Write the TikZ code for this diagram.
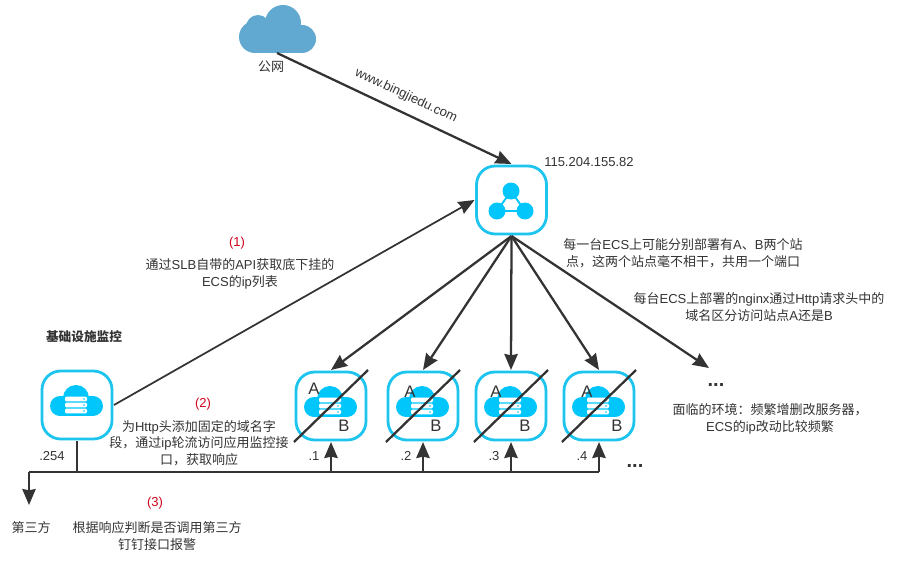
\documentclass[tikz,border=0pt]{standalone}
\usepackage{fontspec}
\setmainfont{Liberation Sans}
\newfontfamily\cjk{Noto Sans CJK SC}
\usetikzlibrary{arrows.meta,calc,positioning}
\newcommand{\zh}[1]{{\cjk #1}}
\definecolor{iconblue}{HTML}{00C6FB}
\definecolor{boxblue}{HTML}{1CC4EE}
\definecolor{skyblue}{HTML}{62A9D2}
\definecolor{inkgray}{HTML}{333333}
\definecolor{notered}{HTML}{D0021B}
\tikzset{
    net diagram/.style = {x=0.75pt, y=-0.75pt, >={Stealth[length=12pt, width=10pt, inset=1pt]}},
    link/.style        = {draw=inkgray, line width=1.7pt},
    thinlink/.style    = {draw=inkgray, line width=1.3pt},
    buslink/.style     = {draw=inkgray, line width=1.9pt},
    hostbox/.style     = {draw=boxblue, line width=2.1pt, rounded corners=14pt, fill=white,
                          minimum width=52.5pt, minimum height=51pt,
                          inner sep=0pt, outer sep=1.5pt},
    note/.style        = {font=\fontsize{9.75}{12.4}\selectfont, align=center,
                          text=inkgray, inner sep=0pt},
    stepmark/.style    = {note, text=notered},
    site/.style        = {font=\fontsize{12.5}{14}\selectfont, text=inkgray, inner sep=0pt},
    moredots/.style    = {font=\bfseries\fontsize{15}{15}\selectfont, text=inkgray, inner sep=0pt},
    server cloud/.pic  = {
        \fill[iconblue] (-17,1) circle (10);
        \fill[iconblue] (16,1) circle (10);
        \fill[iconblue] (-1,-7) circle (13);
        \fill[iconblue] (-17,-9) rectangle (16,11);
        \foreach \y in {-6,0,6} {
            \fill[white, rounded corners=1pt] (-12,\y-2.4) rectangle (10,\y+2.4);
            \fill[iconblue] (7,\y) circle (0.9);
        }
    }
}

\begin{document}
\begin{tikzpicture}[net diagram]
\useasboundingbox (0,0) rectangle (906,563);

% Load balancer and public cloud
\node[hostbox] (slb) at (511.5,200) {};
\fill[skyblue] (255,37) circle (16);
\fill[skyblue] (302,39) circle (14);
\fill[skyblue] (258,27) circle (12);
\fill[skyblue] (283,23) circle (18);
\fill[skyblue] (255,30) rectangle (302,53);
\coordinate (web) at (277,53);
\node[note] (webname) at (271,67) {\zh{公网}};
\node[note, anchor=west] (slbip) at (544,162) {115.204.155.82};

% Balancer icon
\draw[iconblue, line width=1.4pt] (511,191) -- (497,211) -- (525,211) -- cycle;
\fill[iconblue] (511,191) circle (8.5);
\fill[iconblue] (497,211) circle (8.5);
\fill[iconblue] (525,211) circle (8.5);

% Monitor host
\node[hostbox] (mon) at (77,405) {};
\pic at (77,405) {server cloud};
\node[note, font=\bfseries\fontsize{9.5}{12}\selectfont] (monname) at (84,337) {\zh{基础设施监控}};
\node[note] (monip) at (52,456) {.254};

% Application hosts
\foreach \name/\xpos/\num/\ax/\ay/\bx in {ecsa/331/1/314/389/344, ecsb/423/2/410/392/436,
                                         ecsc/511/3/496/392/525, ecsd/599/4/587/392/617} {
    \node[hostbox] (\name) at (\xpos,406) {};
    \pic at (\xpos,406) {server cloud};
    \draw[link] (\name.south west) -- (\name.north east);
    \node[site] (\name A) at (\ax,\ay) {A};
    \node[site] (\name B) at (\bx,426) {B};
    \node[note] (\name ip) at (\xpos-17,456) {.\num};
}
\coordinate (more) at (709,368);
\node[moredots] (enddots) at (716,385) {...};
\node[moredots] (busdots) at (635,466) {...};

% Requests coming in
\draw[->, link] (web) -- node[note, pos=0.52, above=7pt, sloped] (domain) {www.bingjiedu.com} (slb.north);
\draw[->, thinlink] (mon.east) -- (slb.west);

% Fan-out from the balancer
\draw[->, link] (slb.south) -- (ecsa.north);
\draw[->, link] (slb.south) -- (ecsb.north);
\draw[->, link] (slb.south) -- (ecsc.north);
\draw[->, link] (slb.south) -- (ecsd.north);
\draw[->, link] (slb.south) -- (more);

% Probe bus under the hosts
\coordinate (drop) at (mon.south |- 0,472);
\coordinate (third) at (29,505);
\draw[buslink] (mon.south) -- (drop);
\draw[buslink] (drop) -- (ecsb.south |- drop);
\draw[thinlink] (ecsb.south |- drop) -- (ecsd.south |- drop);
\draw[thinlink] (drop) -- (third |- drop);
\draw[->, link] (third |- drop) -- (third);
\draw[->, link] (ecsa.south |- drop) -- (ecsa.south);
\draw[->, link] (ecsb.south |- drop) -- (ecsb.south);
\draw[->, link] (ecsc.south |- drop) -- (ecsc.south);
\draw[->, link] (ecsd.south |- drop) -- (ecsd.south);

% Notes
\node[stepmark] (markone) at (237,243) {(1)};
\node[note] (noteone) at (240,274) {\zh{通过}SLB\zh{自带的}API\zh{获取底下挂的}\\ECS\zh{的}ip\zh{列表}};
\node[stepmark] (marktwo) at (203,404) {(2)};
\node[note] (notetwo) at (199,443) {\zh{为}Http\zh{头添加固定的域名字}\\\zh{段，通过}ip\zh{轮流访问应用监控接}\\\zh{口，获取响应}};
\node[stepmark] (markthree) at (155,503) {(3)};
\node[note] (notethree) at (157,536) {\zh{根据响应判断是否调用第三方}\\\zh{钉钉接口报警}};
\node[note] (thirdname) at (31,528) {\zh{第三方}};
\node[note] (notesite) at (683,253) {\zh{每一台}ECS\zh{上可能分别部署有}A\zh{、}B\zh{两个站}\\\zh{点，这两个站点毫不相干，共用一个端口}};
\node[note] (notenginx) at (759,307) {\zh{每台}ECS\zh{上部署的}nginx\zh{通过}Http\zh{请求头中的}\\\zh{域名区分访问站点}A\zh{还是}B};
\node[note] (noteenv) at (770,419) {\zh{面临的环境：频繁增删改服务器，}\\ECS\zh{的}ip\zh{改动比较频繁}};

\end{tikzpicture}
\end{document}
